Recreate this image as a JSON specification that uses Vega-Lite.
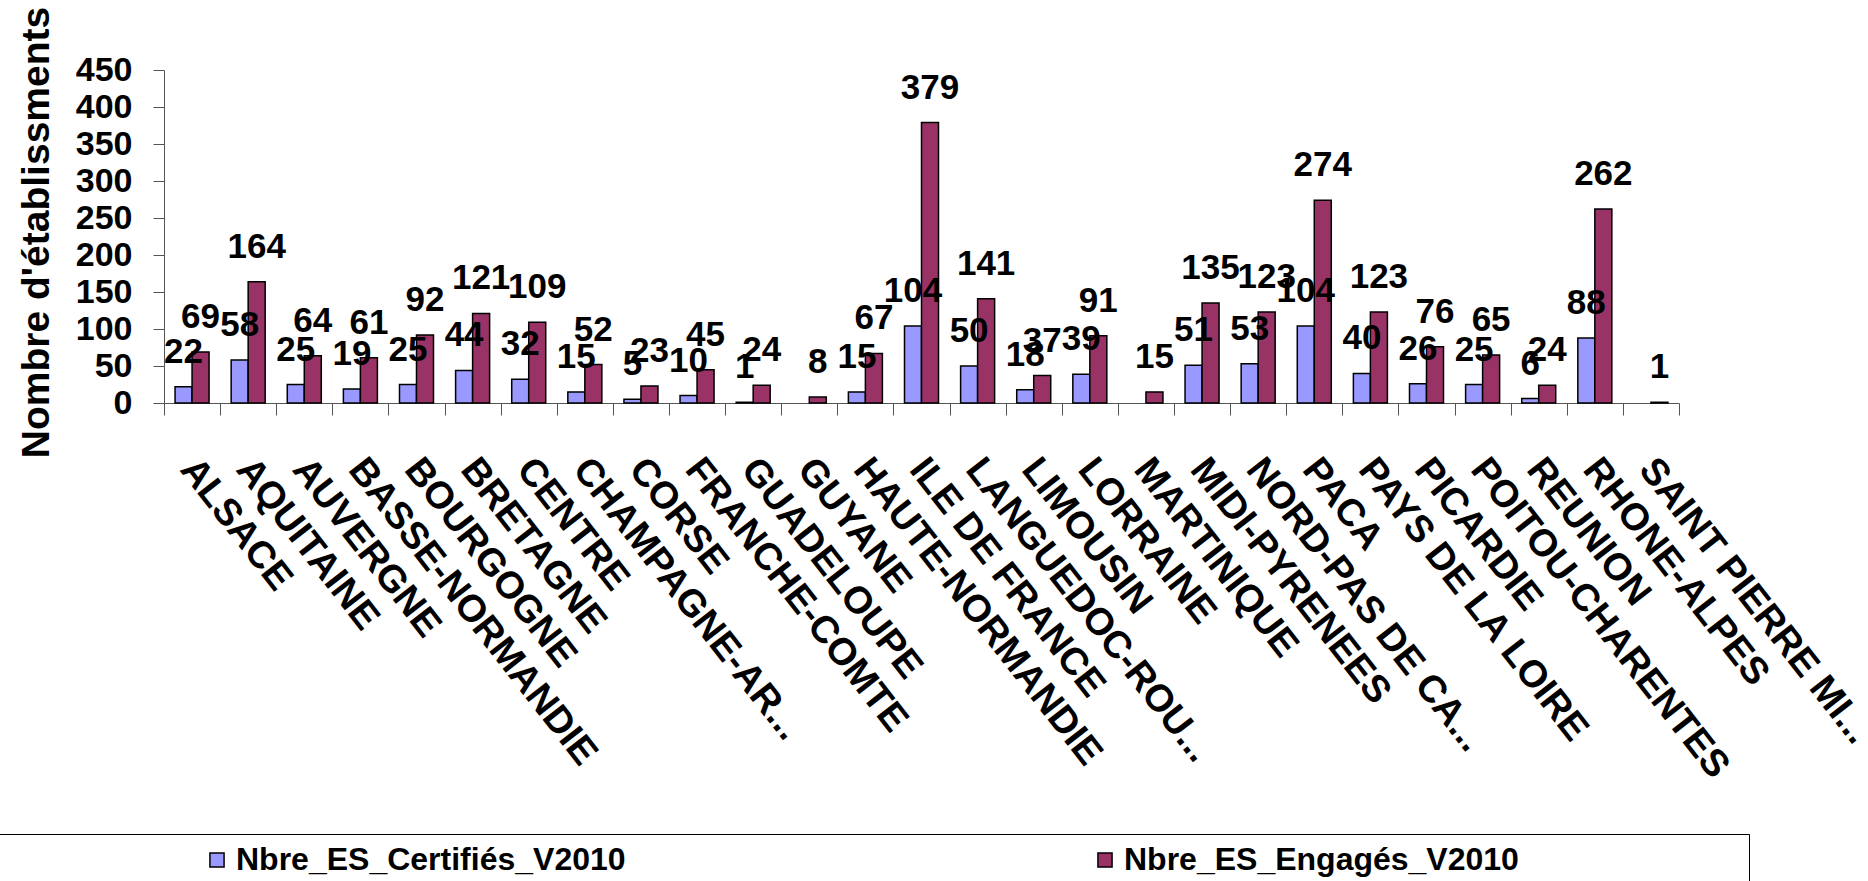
{
  "$schema": "https://vega.github.io/schema/vega-lite/v6.json",
  "width": 1515,
  "height": 333,
  "autosize": {"type": "none"},
  "padding": {"left": 164, "top": 70, "right": 189, "bottom": 478},
  "background": "white",
  "config": {
    "view": {"stroke": null},
    "font": "Liberation Sans",
    "axis": {"grid": false, "domainColor": "#555", "tickColor": "#555", "labelColor": "black", "titleColor": "black"}
  },
  "data": {
    "values": [
      {"region": "ALSACE", "serie": "Nbre_ES_Certifiés_V2010", "value": 22},
      {"region": "ALSACE", "serie": "Nbre_ES_Engagés_V2010", "value": 69},
      {"region": "AQUITAINE", "serie": "Nbre_ES_Certifiés_V2010", "value": 58},
      {"region": "AQUITAINE", "serie": "Nbre_ES_Engagés_V2010", "value": 164},
      {"region": "AUVERGNE", "serie": "Nbre_ES_Certifiés_V2010", "value": 25},
      {"region": "AUVERGNE", "serie": "Nbre_ES_Engagés_V2010", "value": 64},
      {"region": "BASSE-NORMANDIE", "serie": "Nbre_ES_Certifiés_V2010", "value": 19},
      {"region": "BASSE-NORMANDIE", "serie": "Nbre_ES_Engagés_V2010", "value": 61},
      {"region": "BOURGOGNE", "serie": "Nbre_ES_Certifiés_V2010", "value": 25},
      {"region": "BOURGOGNE", "serie": "Nbre_ES_Engagés_V2010", "value": 92},
      {"region": "BRETAGNE", "serie": "Nbre_ES_Certifiés_V2010", "value": 44},
      {"region": "BRETAGNE", "serie": "Nbre_ES_Engagés_V2010", "value": 121},
      {"region": "CENTRE", "serie": "Nbre_ES_Certifiés_V2010", "value": 32},
      {"region": "CENTRE", "serie": "Nbre_ES_Engagés_V2010", "value": 109},
      {"region": "CHAMPAGNE-AR...", "serie": "Nbre_ES_Certifiés_V2010", "value": 15},
      {"region": "CHAMPAGNE-AR...", "serie": "Nbre_ES_Engagés_V2010", "value": 52},
      {"region": "CORSE", "serie": "Nbre_ES_Certifiés_V2010", "value": 5},
      {"region": "CORSE", "serie": "Nbre_ES_Engagés_V2010", "value": 23},
      {"region": "FRANCHE-COMTE", "serie": "Nbre_ES_Certifiés_V2010", "value": 10},
      {"region": "FRANCHE-COMTE", "serie": "Nbre_ES_Engagés_V2010", "value": 45},
      {"region": "GUADELOUPE", "serie": "Nbre_ES_Certifiés_V2010", "value": 1},
      {"region": "GUADELOUPE", "serie": "Nbre_ES_Engagés_V2010", "value": 24},
      {"region": "GUYANE", "serie": "Nbre_ES_Engagés_V2010", "value": 8},
      {"region": "HAUTE-NORMANDIE", "serie": "Nbre_ES_Certifiés_V2010", "value": 15},
      {"region": "HAUTE-NORMANDIE", "serie": "Nbre_ES_Engagés_V2010", "value": 67},
      {"region": "ILE DE FRANCE", "serie": "Nbre_ES_Certifiés_V2010", "value": 104},
      {"region": "ILE DE FRANCE", "serie": "Nbre_ES_Engagés_V2010", "value": 379},
      {"region": "LANGUEDOC-ROU...", "serie": "Nbre_ES_Certifiés_V2010", "value": 50},
      {"region": "LANGUEDOC-ROU...", "serie": "Nbre_ES_Engagés_V2010", "value": 141},
      {"region": "LIMOUSIN", "serie": "Nbre_ES_Certifiés_V2010", "value": 18},
      {"region": "LIMOUSIN", "serie": "Nbre_ES_Engagés_V2010", "value": 37},
      {"region": "LORRAINE", "serie": "Nbre_ES_Certifiés_V2010", "value": 39},
      {"region": "LORRAINE", "serie": "Nbre_ES_Engagés_V2010", "value": 91},
      {"region": "MARTINIQUE", "serie": "Nbre_ES_Engagés_V2010", "value": 15},
      {"region": "MIDI-PYRENEES", "serie": "Nbre_ES_Certifiés_V2010", "value": 51},
      {"region": "MIDI-PYRENEES", "serie": "Nbre_ES_Engagés_V2010", "value": 135},
      {"region": "NORD-PAS DE CA...", "serie": "Nbre_ES_Certifiés_V2010", "value": 53},
      {"region": "NORD-PAS DE CA...", "serie": "Nbre_ES_Engagés_V2010", "value": 123},
      {"region": "PACA", "serie": "Nbre_ES_Certifiés_V2010", "value": 104},
      {"region": "PACA", "serie": "Nbre_ES_Engagés_V2010", "value": 274},
      {"region": "PAYS DE LA LOIRE", "serie": "Nbre_ES_Certifiés_V2010", "value": 40},
      {"region": "PAYS DE LA LOIRE", "serie": "Nbre_ES_Engagés_V2010", "value": 123},
      {"region": "PICARDIE", "serie": "Nbre_ES_Certifiés_V2010", "value": 26},
      {"region": "PICARDIE", "serie": "Nbre_ES_Engagés_V2010", "value": 76},
      {"region": "POITOU-CHARENTES", "serie": "Nbre_ES_Certifiés_V2010", "value": 25},
      {"region": "POITOU-CHARENTES", "serie": "Nbre_ES_Engagés_V2010", "value": 65},
      {"region": "REUNION", "serie": "Nbre_ES_Certifiés_V2010", "value": 6},
      {"region": "REUNION", "serie": "Nbre_ES_Engagés_V2010", "value": 24},
      {"region": "RHONE-ALPES", "serie": "Nbre_ES_Certifiés_V2010", "value": 88},
      {"region": "RHONE-ALPES", "serie": "Nbre_ES_Engagés_V2010", "value": 262},
      {"region": "SAINT PIERRE MI...", "serie": "Nbre_ES_Engagés_V2010", "value": 1}
    ]
  },
  "encoding": {
    "x": {
      "field": "region",
      "type": "nominal",
      "sort": null,
      "scale": {"paddingInner": 0, "paddingOuter": 0},
      "axis": {
        "title": null,
        "labelAngle": 52,
        "labelAlign": "left",
        "labelBaseline": "top",
        "labelFontSize": 38,
        "labelFontWeight": "bold",
        "labelPadding": 36,
        "labelOffset": 10,
        "labelLimit": 2000,
        "labelOverlap": false,
        "labelBound": false,
        "labelFlush": false,
        "tickSize": 12,
        "tickBand": "extent"
      }
    },
    "xOffset": {
      "field": "serie",
      "type": "nominal",
      "sort": ["Nbre_ES_Certifiés_V2010", "Nbre_ES_Engagés_V2010"],
      "scale": {"paddingInner": 0, "paddingOuter": 0.65}
    },
    "y": {
      "field": "value",
      "type": "quantitative",
      "scale": {"domain": [0, 450], "nice": false},
      "axis": {
        "values": [0, 50, 100, 150, 200, 250, 300, 350, 400, 450],
        "labelFontSize": 34,
        "labelFontWeight": "bold",
        "labelPadding": 21,
        "tickSize": 11,
        "title": "Nombre d'établissments",
        "titleFontSize": 39,
        "titleFontWeight": "bold",
        "titleX": -128,
        "titleY": 162,
        "titleAngle": -90,
        "titleAlign": "center",
        "titleBaseline": "middle"
      }
    }
  },
  "layer": [
    {
      "mark": {"type": "bar", "stroke": "black", "strokeWidth": 1.5},
      "encoding": {
        "color": {
          "field": "serie",
          "type": "nominal",
          "scale": {
            "domain": ["Nbre_ES_Certifiés_V2010", "Nbre_ES_Engagés_V2010"],
            "range": ["#9999FF", "#993366"]
          },
          "legend": {
            "title": " ",
            "titleOrient": "right",
            "titlePadding": 220,
            "orient": "none",
            "legendX": -166,
            "legendY": 764,
            "direction": "horizontal",
            "columns": 2,
            "columnPadding": 270,
            "symbolType": "square",
            "symbolSize": 200,
            "symbolStrokeColor": "black",
            "symbolStrokeWidth": 1.5,
            "symbolOffset": 193,
            "labelOffset": 3,
            "labelFontSize": 32,
            "labelFontWeight": "bold",
            "labelColor": "black",
            "labelLimit": 2000,
            "strokeColor": "black",
            "fillColor": "white",
            "padding": 10
          }
        }
      }
    },
    {
      "mark": {"type": "text", "fontSize": 35, "fontWeight": "bold", "baseline": "alphabetic", "dy": -24, "color": "black"},
      "encoding": {"text": {"field": "value", "type": "quantitative"}}
    }
  ]
}
